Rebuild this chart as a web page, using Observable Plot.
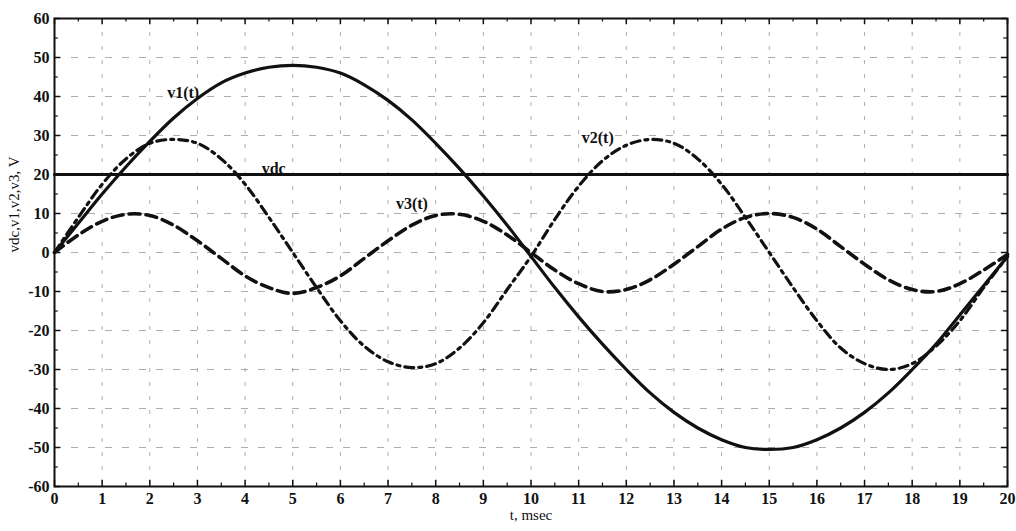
<!DOCTYPE html>
<html>
<head>
<meta charset="utf-8">
<script src="https://cdn.jsdelivr.net/npm/d3@7"></script>
<script src="https://cdn.jsdelivr.net/npm/@observablehq/plot@0.6"></script>
<style>
  html, body { margin: 0; padding: 0; background: #fff; }
  #chart svg { display: block; }
  #chart svg, #chart svg text { font-family: 'Liberation Serif', 'DejaVu Serif', serif !important; }
</style>
</head>
<body>
<div id="chart"></div>
<script>
// Sample times (ms)
const tMs = [0,0.5,1,1.5,2,2.5,3,3.5,4,4.5,5,5.5,6,6.5,7,7.5,8,8.5,9,9.5,10,
             10.5,11,11.5,12,12.5,13,13.5,14,14.5,15,15.5,16,16.5,17,17.5,18,18.5,19,19.5,20];
// v1(t), solid
const v1 = [0,7.5,15,22,28.5,34.5,39.5,43.5,46,47.5,48,47.5,46,43,39,34,28,21.5,14.5,7,-1,
            -9,-16.5,-23.5,-30,-36,-41,-45,-48,-50,-50.5,-50,-48,-45,-41,-36,-30,-23.5,-16,-8.5,-1];
// v2(t), dash-dot
const v2 = [0,9,17.5,24,28,29,28,24,17.5,9,0,-9,-17.5,-24,-28,-29.5,-28.5,-24.5,-18,-9.5,-1,
            8.5,17,23.5,27.5,29,28,24,17.5,9,0,-9,-17.5,-24.5,-28.5,-30,-28.5,-24,-17.5,-9,-1];
// v3(t), dashed
const v3 = [0,4.5,8,9.8,9.5,7,3,-1.5,-6,-9,-10.5,-9,-6,-1.5,3,7,9.5,9.8,8,4.5,0,
            -4.5,-8,-10,-9.5,-7,-3,1.5,6,9,10,9,6,1.5,-3,-7,-9.5,-10,-8,-4.5,-0.5];
// vdc, solid
const vdcT = [0, 20];
const vdc = [20, 20];

const xTicks = [0,1,2,3,4,5,6,7,8,9,10,11,12,13,14,15,16,17,18,19,20];
const yTicks = [-60,-50,-40,-30,-20,-10,0,10,20,30,40,50,60];
const xMinor = [0.5,1.5,2.5,3.5,4.5,5.5,6.5,7.5,8.5,9.5,10.5,11.5,12.5,13.5,14.5,15.5,16.5,17.5,18.5,19.5];
const yMinor = [-55,-45,-35,-25,-15,-5,5,15,25,35,45,55];

const labels = [
  {t: 2.7, v: 41, text: "v1(t)"},
  {t: 4.6, v: 21.5, text: "vdc"},
  {t: 7.5, v: 12.5, text: "v3(t)"},
  {t: 11.4, v: 29.5, text: "v2(t)"}
];

const rows = (vals) => tMs.map((t, i) => ({t, v: vals[i]}));
const d1 = rows(v1), d2 = rows(v2), d3r = rows(v3);
const dvdc = vdcT.map((t, i) => ({t, v: vdc[i]}));

const serif = "'Liberation Serif', 'DejaVu Serif', serif";

const chart = Plot.plot({
  width: 1016,
  height: 531,
  marginLeft: 54,
  marginRight: 9,
  marginTop: 18,
  marginBottom: 45,
  style: {fontFamily: serif, fontSize: "16px", color: "#111", background: "#fff"},
  x: {domain: [0, 20], label: null},
  y: {domain: [-60, 60], label: null},
  marks: [
    // dashed grid
    Plot.ruleX(xTicks.slice(1, -1), {x: d => d, stroke: "#777", strokeOpacity: 0.6, strokeWidth: 1, strokeDasharray: "4,10"}),
    Plot.ruleY(yTicks.slice(1, -1), {y: d => d, stroke: "#777", strokeOpacity: 0.6, strokeWidth: 1, strokeDasharray: "7,10"}),
    // inward ticks
    Plot.ruleX(xTicks, {x: d => d, y1: -60, y2: -58.4, stroke: "#111", strokeWidth: 1.5}),
    Plot.ruleX(xTicks, {x: d => d, y1: 60, y2: 58.4, stroke: "#111", strokeWidth: 1.5}),
    Plot.ruleX(xMinor, {x: d => d, y1: -60, y2: -59.1, stroke: "#111", strokeWidth: 1.2}),
    Plot.ruleX(xMinor, {x: d => d, y1: 60, y2: 59.1, stroke: "#111", strokeWidth: 1.2}),
    Plot.ruleY(yTicks, {y: d => d, x1: 0, x2: 0.13, stroke: "#111", strokeWidth: 1.5}),
    Plot.ruleY(yTicks, {y: d => d, x1: 20, x2: 19.87, stroke: "#111", strokeWidth: 1.5}),
    Plot.ruleY(yMinor, {y: d => d, x1: 0, x2: 0.08, stroke: "#111", strokeWidth: 1.2}),
    Plot.ruleY(yMinor, {y: d => d, x1: 20, x2: 19.92, stroke: "#111", strokeWidth: 1.2}),
    Plot.frame({stroke: "#111", strokeWidth: 2}),
    // tick labels
    Plot.axisX({ticks: xTicks, tickSize: 0, tickPadding: 6, tickFormat: d => String(d), label: null, fontWeight: "bold", fontSize: 16, fontFamily: serif}),
    Plot.axisY({ticks: yTicks, tickSize: 0, tickPadding: 5, tickFormat: d => String(d), label: null, fontWeight: "bold", fontSize: 16, fontFamily: serif}),
    // curves
    Plot.line(dvdc, {x: "t", y: "v", stroke: "#111", strokeWidth: 3}),
    Plot.line(d1, {x: "t", y: "v", stroke: "#111", strokeWidth: 3.2, curve: "catmull-rom"}),
    Plot.line(d2, {x: "t", y: "v", stroke: "#111", strokeWidth: 3.2, strokeDasharray: "9,5,3,5", curve: "catmull-rom"}),
    Plot.line(d3r, {x: "t", y: "v", stroke: "#111", strokeWidth: 3.6, strokeDasharray: "11,6", curve: "catmull-rom"}),
    // series labels
    Plot.text(labels, {x: "t", y: "v", text: "text", fontWeight: "bold", fontSize: 16, fontFamily: serif, fill: "#111"}),
    // axis titles
    Plot.text(["vdc,v1,v2,v3, V"], {frameAnchor: "left", dx: -40, rotate: -90, fontSize: 15, fontFamily: serif, fill: "#111"}),
    Plot.text(["t, msec"], {frameAnchor: "bottom", dy: 33, fontSize: 15, fontFamily: serif, fill: "#111"})
  ]
});

document.getElementById("chart").appendChild(chart);
</script>
</body>
</html>
